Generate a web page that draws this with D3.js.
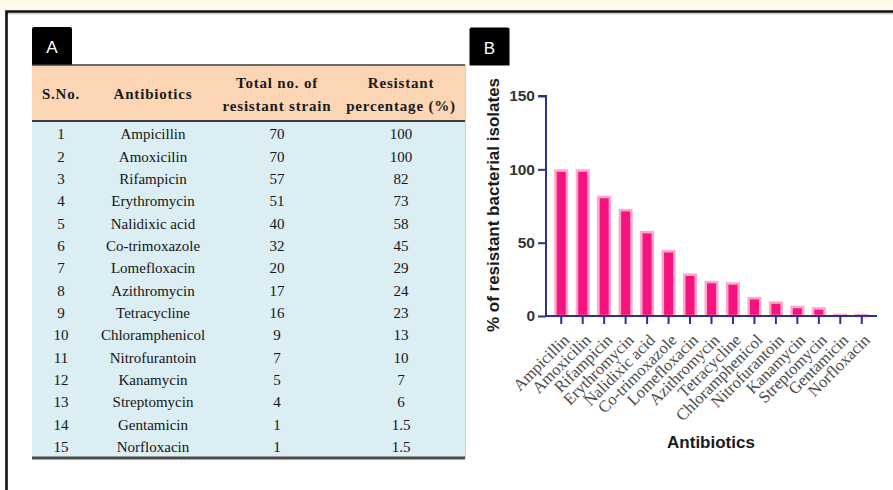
<!DOCTYPE html>
<html>
<head>
<meta charset="utf-8">
<script src="https://cdn.jsdelivr.net/npm/d3@7"></script>
<style>
  html, body { margin: 0; padding: 0; background: #ffffff; }
  svg { display: block; }
</style>
</head>
<body>
<svg id="fig" width="893" height="490"></svg>
<script>
// Antibiotic resistance of bacterial isolates: table (A) and bar chart (B)
const serialNumbers = [1, 2, 3, 4, 5, 6, 7, 8, 9, 10, 11, 12, 13, 14, 15];
const antibiotics = [
  "Ampicillin", "Amoxicilin", "Rifampicin", "Erythromycin", "Nalidixic acid",
  "Co-trimoxazole", "Lomefloxacin", "Azithromycin", "Tetracycline", "Chloramphenicol",
  "Nitrofurantoin", "Kanamycin", "Streptomycin", "Gentamicin", "Norfloxacin"
];
const resistantStrains = [70, 70, 57, 51, 40, 32, 20, 17, 16, 9, 7, 5, 4, 1, 1];
const resistantPercent = [100, 100, 82, 73, 58, 45, 29, 24, 23, 13, 10, 7, 6, 1.5, 1.5];
const yTickValues = [0, 50, 100, 150];
const tableHeaders = [
  ["S.No."], ["Antibiotics"], ["Total no. of", "resistant strain"], ["Resistant", "percentage (%)"]
];

const serif = "'Liberation Serif', 'Times New Roman', serif";
const sans = "'Liberation Sans', Arial, sans-serif";

const svg = d3.select("#fig");

// page band and frame
svg.append("rect").attr("x", 0).attr("y", 0).attr("width", 893).attr("height", 10)
  .attr("fill", "#fffbea");
svg.append("line").attr("x1", 6).attr("x2", 893).attr("y1", 13.5).attr("y2", 13.5)
  .attr("stroke", "#c8c8c8").attr("stroke-width", 1.5);
svg.append("path").attr("d", "M6.5,495 V11.5 H900")
  .attr("fill", "none").attr("stroke", "#111").attr("stroke-width", 2.6);

// panel tags
function panelTag(x, y, label) {
  svg.append("path")
    .attr("d", `M${x},${y + 38} V${y + 2} Q${x},${y} ${x + 2},${y} H${x + 38} Q${x + 40},${y} ${x + 40},${y + 2} V${y + 38} Z`)
    .attr("fill", "#000");
  svg.append("text").attr("x", x + 20).attr("y", y + 20).attr("dy", "0.36em")
    .attr("text-anchor", "middle").attr("fill", "#fff")
    .style("font-family", sans).style("font-size", "17px").text(label);
}
panelTag(32, 27, "A");
panelTag(469.5, 27.5, "B");

// ---------- Panel A: table ----------
const tableLeft = 32, tableRight = 465;
const headerTop = 65, headerBottom = 121, bodyBottom = 458;
const colCenters = [61, 153, 277, 401];

svg.append("rect").attr("x", tableLeft).attr("y", headerTop).attr("width", tableRight - tableLeft)
  .attr("height", headerBottom - headerTop).attr("fill", "#fcd5b4");
svg.append("rect").attr("x", tableLeft).attr("y", headerBottom).attr("width", tableRight - tableLeft)
  .attr("height", bodyBottom - headerBottom).attr("fill", "#daeef3");
svg.append("line").attr("x1", tableRight + 0.5).attr("x2", tableRight + 0.5)
  .attr("y1", headerTop).attr("y2", bodyBottom).attr("stroke", "#d0d0d0").attr("stroke-width", 1);

svg.append("line").attr("x1", tableLeft).attr("x2", tableRight).attr("y1", headerTop).attr("y2", headerTop)
  .attr("stroke", "#3a3a3a").attr("stroke-width", 1.6);
svg.append("line").attr("x1", tableLeft).attr("x2", tableRight).attr("y1", headerBottom).attr("y2", headerBottom)
  .attr("stroke", "#3a3a3a").attr("stroke-width", 2);
svg.append("line").attr("x1", tableLeft).attr("x2", tableRight).attr("y1", bodyBottom).attr("y2", bodyBottom)
  .attr("stroke", "#4a4a4a").attr("stroke-width", 3);

const header = svg.append("g").attr("class", "table-header");
tableHeaders.forEach((lines, i) => {
  const t = header.append("text").attr("text-anchor", "middle")
    .style("font-family", serif).style("font-size", "15px").style("font-weight", "bold")
    .style("letter-spacing", "0.8px").attr("fill", "#1a1a1a");
  const startY = lines.length === 1 ? 94 : 83;
  lines.forEach((ln, j) => {
    t.append("tspan").attr("x", colCenters[i]).attr("y", startY + j * 22.5).attr("dy", "0.35em").text(ln);
  });
});

const rowY = d3.scaleLinear().domain([0, 14]).range([134, 446.7]);
const rows = svg.append("g").attr("class", "table-body")
  .selectAll("g").data(antibiotics).join("g")
  .attr("transform", (d, i) => `translate(0,${rowY(i)})`);
const cellText = (sel, idx, fn) => sel.append("text")
  .attr("x", colCenters[idx]).attr("dy", "0.35em").attr("text-anchor", "middle")
  .style("font-family", serif).style("font-size", "15px").attr("fill", "#151515")
  .text(fn);
cellText(rows, 0, (d, i) => serialNumbers[i]);
cellText(rows, 1, d => d);
cellText(rows, 2, (d, i) => resistantStrains[i]);
cellText(rows, 3, (d, i) => resistantPercent[i]);

// ---------- Panel B: bar chart ----------
const axisColor = "#2e3188";
const plot = { left: 546, right: 877, top: 96, bottom: 316 };

const x = d3.scaleBand().domain(antibiotics).range([plot.left, plot.right])
  .paddingInner(0).paddingOuter(0.21);
const y = d3.scaleLinear().domain([0, 150]).range([plot.bottom, plot.top]);

const chart = svg.append("g").attr("class", "chart");

// bars: deep pink body with a pale pink rim
const barW = 11.5;
chart.append("g").selectAll("rect").data(antibiotics).join("rect")
  .attr("x", d => x(d) + x.bandwidth() / 2 - barW / 2)
  .attr("width", barW)
  .attr("y", (d, i) => y(resistantPercent[i]) + 1.25)
  .attr("height", (d, i) => Math.max(0, plot.bottom - y(resistantPercent[i]) - 1.25))
  .attr("fill", "#f5137d")
  .attr("stroke", "#fca6cf")
  .attr("stroke-width", 2.5);

// y axis
const yAxis = chart.append("g").attr("transform", `translate(${plot.left},0)`)
  .call(d3.axisLeft(y).tickValues(yTickValues).tickSize(8).tickPadding(3));
yAxis.select(".domain").attr("stroke", axisColor).attr("stroke-width", 2)
  .attr("d", `M-8,${plot.top}H0V${plot.bottom}`);
yAxis.selectAll(".tick line").attr("stroke", axisColor).attr("stroke-width", 2);
yAxis.selectAll(".tick text").attr("fill", "#333")
  .style("font-family", sans).style("font-size", "15.5px").style("font-weight", "bold");

// x axis
const xAxis = chart.append("g").attr("transform", `translate(0,${plot.bottom})`)
  .call(d3.axisBottom(x).tickSize(8).tickSizeOuter(0));
xAxis.select(".domain").attr("stroke", axisColor).attr("stroke-width", 2)
  .attr("d", `M${plot.left},0H${plot.right}`);
xAxis.selectAll(".tick line").attr("stroke", axisColor).attr("stroke-width", 2);
xAxis.selectAll(".tick text")
  .attr("text-anchor", "end")
  .attr("x", 0).attr("y", 0).attr("dy", "0.35em")
  .attr("transform", "translate(5,21) rotate(-45)")
  .attr("fill", "#4a4a4a")
  .style("font-family", serif).style("font-size", "16.5px");

// axis titles
chart.append("text")
  .attr("transform", `translate(493,${(plot.top + plot.bottom) / 2 - 1}) rotate(-90)`)
  .attr("dy", "0.35em").attr("text-anchor", "middle")
  .attr("fill", "#1a1a1a")
  .style("font-family", sans).style("font-size", "17px").style("font-weight", "bold")
  .text("% of resistant bacterial isolates");
chart.append("text")
  .attr("x", 711).attr("y", 442).attr("dy", "0.35em").attr("text-anchor", "middle")
  .attr("fill", "#1a1a1a")
  .style("font-family", sans).style("font-size", "17px").style("font-weight", "bold")
  .text("Antibiotics");
</script>
</body>
</html>
